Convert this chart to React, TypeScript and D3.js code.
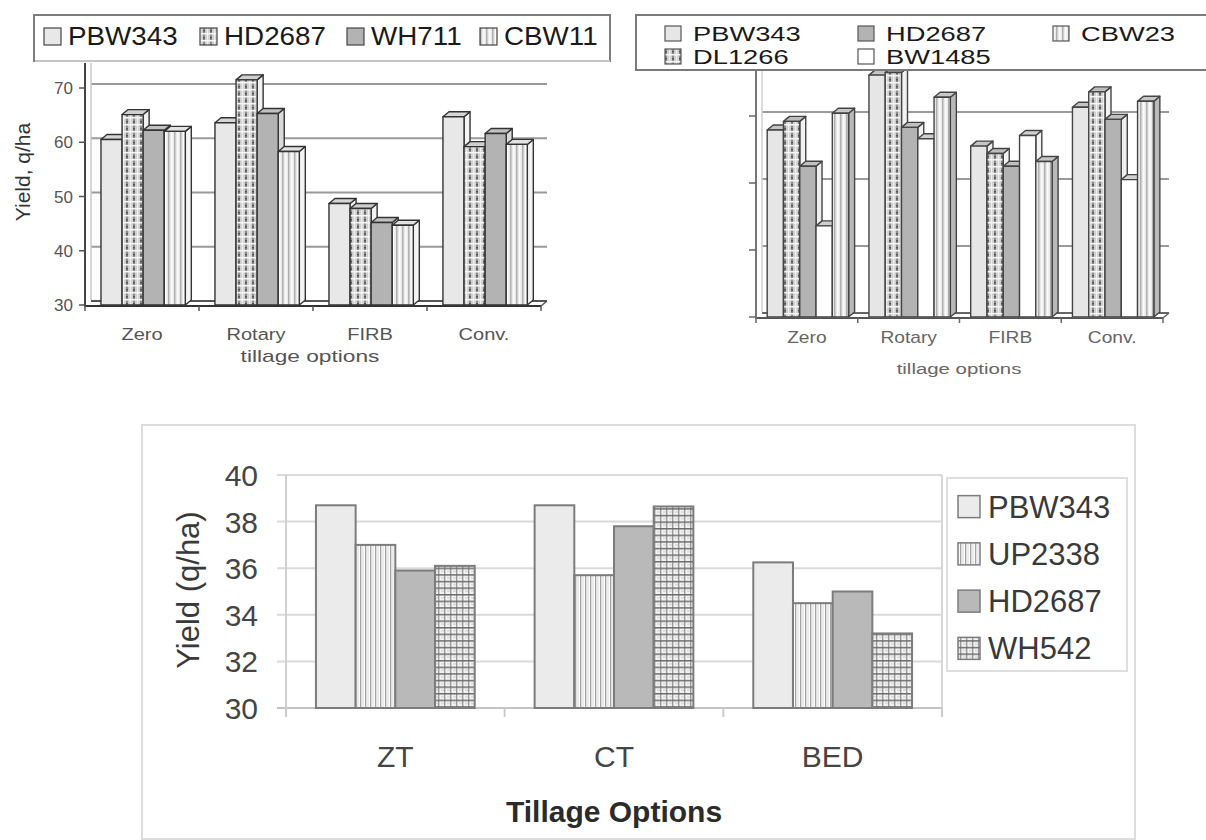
import React from 'react';
import * as d3 from 'd3';

// ---------- Panel A: yield of four varieties under tillage options ----------
const tillageA = ['Zero', 'Rotary', 'FIRB', 'Conv.'];
const varietiesA = ['PBW343', 'HD2687', 'WH711', 'CBW11'];
const pbw343A = [60.5, 63.6, 48.7, 64.7];
const hd2687A = [65.1, 71.5, 47.8, 59.2];
const wh711A = [62.2, 65.3, 45.2, 61.6];
const cbw11A = [62.0, 58.3, 44.7, 59.6];
const ticksA = [30, 40, 50, 60, 70];

// ---------- Panel B: five varieties under the same tillage options ----------
const tillageB = ['Zero', 'Rotary', 'FIRB', 'Conv.'];
const varietiesB = ['PBW343', 'DL1266', 'HD2687', 'BW1485', 'CBW23'];
const pbw343B = [57.9, 66.1, 55.5, 61.3];
const dl1266B = [59.2, 66.5, 54.4, 63.6];
const hd2687B = [52.5, 58.3, 52.5, 59.5];
const bw1485B = [43.6, 56.6, 57.1, 50.5];
const cbw23B = [60.4, 62.8, 53.2, 62.2];
const ticksB = [30, 40, 50, 60];

// ---------- Panel C: ZT / CT / BED ----------
const tillageC = ['ZT', 'CT', 'BED'];
const varietiesC = ['PBW343', 'UP2338', 'HD2687', 'WH542'];
const pbw343C = [38.7, 38.7, 36.25];
const up2338C = [37.0, 35.7, 34.5];
const hd2687C = [35.9, 37.8, 35.0];
const wh542C = [36.1, 38.65, 33.2];
const ticksC = [30, 32, 34, 36, 38, 40];

const seriesA = [pbw343A, hd2687A, wh711A, cbw11A];
const seriesB = [pbw343B, dl1266B, hd2687B, bw1485B, cbw23B];
const seriesC = [pbw343C, up2338C, hd2687C, wh542C];

const FONT = '"Liberation Sans", Arial, Helvetica, sans-serif';

type Face = { front: string; top: string; side: string };

const facesA: Face[] = [
  { front: '#e8e8e8', top: '#d6d6d6', side: '#f4f4f4' },
  { front: 'url(#plaidA)', top: '#cfcfcf', side: '#f2f2f2' },
  { front: '#b3b3b3', top: '#c2c2c2', side: '#dadada' },
  { front: 'url(#stripeA)', top: '#e2e2e2', side: '#f4f4f4' },
];

const facesB: Face[] = [
  { front: '#e6e6e6', top: '#c4c4c4', side: '#f0f0f0' },
  { front: 'url(#plaidA)', top: '#bdbdbd', side: '#f2f2f2' },
  { front: '#b3b3b3', top: '#c0c0c0', side: '#efefef' },
  { front: '#ffffff', top: '#d0d0d0', side: '#f6f6f6' },
  { front: 'url(#stripeA)', top: '#c8c8c8', side: '#b9b9b9' },
];

const fillsC = ['#ebebeb', 'url(#stripeC)', '#b9b9b9', 'url(#plaidC)'];

function pts(a: number[][]) {
  return a.map((p) => p.join(',')).join(' ');
}

function Bar3D({ x, w, yTop, yBase, dx, dy, face, stroke, sw }: {
  x: number; w: number; yTop: number; yBase: number; dx: number; dy: number;
  face: Face; stroke: string; sw: number;
}) {
  return (
    <g stroke={stroke} strokeWidth={sw} strokeLinejoin="round">
      <polygon
        points={pts([[x + w, yTop], [x + w + dx, yTop + dy], [x + w + dx, yBase + dy], [x + w, yBase]])}
        fill={face.side}
      />
      <polygon
        points={pts([[x, yTop], [x + dx, yTop + dy], [x + w + dx, yTop + dy], [x + w, yTop]])}
        fill={face.top}
      />
      <rect x={x} y={yTop} width={w} height={yBase - yTop} fill={face.front} />
    </g>
  );
}

function Txt({ x, y, size, fill, sx = 1, anchor = 'start', weight = 'normal', children }: {
  x: number; y: number; size: number; fill: string; sx?: number; anchor?: string;
  weight?: string; children: React.ReactNode;
}) {
  return (
    <text
      transform={`translate(${x},${y}) scale(${sx},1)`}
      fontSize={size}
      fill={fill}
      textAnchor={anchor as any}
      fontWeight={weight}
      fontFamily={FONT}
    >
      {children}
    </text>
  );
}

function PanelA() {
  const x0 = d3.scaleBand<string>().domain(tillageA).range([85, 541]);
  const bw = x0.bandwidth();
  const x1 = d3.scaleBand<string>().domain(varietiesA).range([bw * 0.14, bw * 0.88]);
  const y = d3.scaleLinear().domain([30, 70]).range([305, 88]);
  const dx = 6;
  const dy = -5;
  const base = y(30);
  const legendX = [44, 200, 347, 480];
  return (
    <g>
      {/* back wall gridlines */}
      {ticksA.map((t) => (
        <line key={t} x1={85 + dx} x2={541 + dx} y1={y(t) + dy + 1} y2={y(t) + dy + 1}
          stroke={t === 30 ? '#555' : '#9a9a9a'} strokeWidth={2} />
      ))}
      <line x1={85 + dx} x2={85 + dx} y1={63} y2={base + dy} stroke="#c8c8c8" strokeWidth={1.5} />
      {/* bars */}
      {tillageA.map((c, ci) => (
        <g key={c}>
          {varietiesA.map((v, vi) => (
            <Bar3D key={v} x={(x0(c) as number) + (x1(v) as number)} w={x1.bandwidth()}
              yTop={y(seriesA[vi][ci])} yBase={base} dx={dx} dy={dy}
              face={facesA[vi]} stroke="#333" sw={1.4} />
          ))}
        </g>
      ))}
      {/* floor front edge and axes */}
      <line x1={85} x2={541} y1={base + 1} y2={base + 1} stroke="#333" strokeWidth={2.2} />
      <line x1={541} x2={541 + dx} y1={base + 1} y2={base + dy + 1} stroke="#555" strokeWidth={1.5} />
      <line x1={85} x2={85} y1={63} y2={base + 2} stroke="#444" strokeWidth={2} />
      {ticksA.map((t) => (
        <g key={t}>
          <line x1={79} x2={85} y1={y(t)} y2={y(t)} stroke="#555" strokeWidth={1.5} />
          <Txt x={73} y={y(t) + 6} size={17} fill="#555" anchor="end">{t}</Txt>
        </g>
      ))}
      {[...tillageA.map((c) => x0(c) as number), 541].map((xv, i) => (
        <line key={i} x1={xv} x2={xv} y1={base + 1} y2={base + 6} stroke="#555" strokeWidth={1.5} />
      ))}
      {tillageA.map((c) => (
        <Txt key={c} x={(x0(c) as number) + bw / 2} y={340} size={17} fill="#555" anchor="middle" sx={1.18}>{c}</Txt>
      ))}
      <Txt x={310} y={362} size={16} fill="#555" anchor="middle" sx={1.42}>tillage options</Txt>
      <text transform="translate(30,172) rotate(-90)" fontSize={21} fill="#333" textAnchor="middle" fontFamily={FONT}>
        Yield, q/ha
      </text>
      {/* legend */}
      <rect x={34} y={15} width={576} height={46} fill="#fff" stroke="#7d7d7d" strokeWidth={2} />
      <line x1={35} x2={610} y1={61} y2={61} stroke="#c4c4c4" strokeWidth={2} />
      {varietiesA.map((v, i) => (
        <g key={v}>
          <rect x={legendX[i]} y={28} width={17} height={17} fill={facesA[i].front} stroke="#444" strokeWidth={1.2} />
          <Txt x={legendX[i] + 24} y={45} size={26} fill="#1a1a1a" sx={1.07}>{v}</Txt>
        </g>
      ))}
    </g>
  );
}

function PanelB() {
  const x0 = d3.scaleBand<string>().domain(tillageB).range([756, 1163]);
  const bw = x0.bandwidth();
  const x1 = d3.scaleBand<string>().domain(varietiesB).range([bw * 0.11, bw * 0.91]);
  const y = d3.scaleLinear().domain([30, 60]).range([317, 116]);
  const dx = 6;
  const dy = -5;
  const base = y(30);
  const colX = [665, 858, 1053];
  return (
    <g>
      {ticksB.map((t) => (
        <line key={t} x1={756 + dx} x2={1163 + dx} y1={y(t) + dy + 1} y2={y(t) + dy + 1}
          stroke={t === 30 ? '#666' : '#9a9a9a'} strokeWidth={2} />
      ))}
      <line x1={756 + dx} x2={756 + dx} y1={70} y2={base + dy} stroke="#cfcfcf" strokeWidth={1.5} />
      {tillageB.map((c, ci) => (
        <g key={c}>
          {varietiesB.map((v, vi) => (
            <Bar3D key={v} x={(x0(c) as number) + (x1(v) as number)} w={x1.bandwidth()}
              yTop={y(seriesB[vi][ci])} yBase={base} dx={dx} dy={dy}
              face={facesB[vi]} stroke="#444" sw={1.4} />
          ))}
        </g>
      ))}
      <line x1={756} x2={1163} y1={base + 1} y2={base + 1} stroke="#555" strokeWidth={2.2} />
      <line x1={1163} x2={1163 + dx} y1={base + 1} y2={base + dy + 1} stroke="#666" strokeWidth={1.5} />
      <line x1={756} x2={756} y1={70} y2={base + 2} stroke="#777" strokeWidth={2} />
      {ticksB.map((t) => (
        <line key={t} x1={749} x2={756} y1={y(t)} y2={y(t)} stroke="#666" strokeWidth={1.5} />
      ))}
      {[...tillageB.map((c) => x0(c) as number), 1163].map((xv, i) => (
        <line key={i} x1={xv} x2={xv} y1={base + 1} y2={base + 6} stroke="#666" strokeWidth={1.5} />
      ))}
      {tillageB.map((c) => (
        <Txt key={c} x={(x0(c) as number) + bw / 2} y={343} size={16} fill="#666" anchor="middle" sx={1.2}>{c}</Txt>
      ))}
      <Txt x={959} y={374} size={15} fill="#666" anchor="middle" sx={1.36}>tillage options</Txt>
      {/* legend, two rows filled column by column */}
      <rect x={636} y={15} width={580} height={55} fill="#fff" stroke="#7a7a7a" strokeWidth={2} />
      {varietiesB.map((v, i) => {
        const col = Math.floor(i / 2);
        const row = i % 2;
        const lx = colX[col];
        const by = row === 0 ? 41 : 64;
        return (
          <g key={v}>
            <rect x={lx} y={by - 15} width={16} height={15} fill={facesB[i].front} stroke="#555" strokeWidth={1.2} />
            <Txt x={lx + 28} y={by} size={21} fill="#1a1a1a" sx={1.3}>{v}</Txt>
          </g>
        );
      })}
    </g>
  );
}

function PanelC() {
  const x0 = d3.scaleBand<string>().domain(tillageC).range([286, 942]);
  const bw = x0.bandwidth();
  const x1 = d3.scaleBand<string>().domain(varietiesC).range([bw * 0.137, bw * 0.863]);
  const y = d3.scaleLinear().domain([30, 40]).range([708, 475]);
  const legendY = d3.scaleBand<string>().domain(varietiesC).range([483, 672]);
  return (
    <g>
      <rect x={142} y={425} width={993} height={414} fill="#fff" stroke="#dcdcdc" strokeWidth={2} />
      {ticksC.filter((t) => t > 30).map((t) => (
        <line key={t} x1={277} x2={942} y1={y(t)} y2={y(t)} stroke="#dadada" strokeWidth={2} />
      ))}
      <line x1={286} x2={286} y1={475} y2={717} stroke="#d0d0d0" strokeWidth={2} />
      <line x1={942} x2={942} y1={475} y2={717} stroke="#d6d6d6" strokeWidth={2} />
      <line x1={277} x2={942} y1={y(30)} y2={y(30)} stroke="#c4c4c4" strokeWidth={2} />
      {[...tillageC.map((c) => x0(c) as number), 942].map((xv, i) => (
        <line key={i} x1={xv} x2={xv} y1={y(30)} y2={717} stroke="#cccccc" strokeWidth={2} />
      ))}
      {tillageC.map((c, ci) => (
        <g key={c}>
          {varietiesC.map((v, vi) => {
            const yt = y(seriesC[vi][ci]);
            return (
              <rect key={v} x={(x0(c) as number) + (x1(v) as number)} y={yt}
                width={x1.bandwidth()} height={y(30) - yt}
                fill={fillsC[vi]} stroke="#7c7c7c" strokeWidth={2} />
            );
          })}
        </g>
      ))}
      {ticksC.map((t) => (
        <Txt key={t} x={258} y={y(t) + 11} size={30} fill="#454545" anchor="end">{t}</Txt>
      ))}
      {tillageC.map((c) => (
        <Txt key={c} x={(x0(c) as number) + bw / 2} y={767} size={30} fill="#454545" anchor="middle">{c}</Txt>
      ))}
      <Txt x={614} y={822} size={30} fill="#2b2b2b" anchor="middle" weight="bold">Tillage Options</Txt>
      <text transform="translate(199,590) rotate(-90)" fontSize={31} fill="#3a3a3a" textAnchor="middle" fontFamily={FONT}>
        Yield (q/ha)
      </text>
      {/* legend */}
      <rect x={947} y={478} width={180} height={193} fill="#fff" stroke="#dedede" strokeWidth={2} />
      {varietiesC.map((v, i) => {
        const cy = (legendY(v) as number) + legendY.bandwidth() / 2;
        return (
          <g key={v}>
            <rect x={958} y={cy - 11} width={22} height={22} fill={fillsC[i]} stroke="#7c7c7c" strokeWidth={1.5} />
            <Txt x={988} y={cy + 11} size={31} fill="#3a3a3a">{v}</Txt>
          </g>
        );
      })}
    </g>
  );
}

export default function App() {
  return (
    <svg
      width={1206}
      height={840}
      viewBox="0 0 1206 840"
      style={{ position: 'absolute', left: 0, top: 0, background: '#fff' }}
      fontFamily={FONT}
    >
      <defs>
        <pattern id="plaidA" width="7" height="7" patternUnits="userSpaceOnUse">
          <rect width="7" height="7" fill="#cfcfcf" />
          <rect x="0" y="0" width="2" height="7" fill="#8d8d8d" />
          <rect x="4" y="0" width="1.2" height="7" fill="#efefef" />
          <rect x="0" y="5" width="7" height="1.5" fill="#f6f6f6" />
          <rect x="0" y="2" width="2" height="1.5" fill="#555" />
        </pattern>
        <pattern id="stripeA" width="6" height="6" patternUnits="userSpaceOnUse">
          <rect width="6" height="6" fill="#e9e9e9" />
          <rect x="0" y="0" width="1.5" height="6" fill="#b0b0b0" />
          <rect x="3" y="0" width="1.5" height="6" fill="#fbfbfb" />
        </pattern>
        <pattern id="stripeC" width="5" height="5" patternUnits="userSpaceOnUse">
          <rect width="5" height="5" fill="#fbfbfb" />
          <rect x="0" y="0" width="1.3" height="5" fill="#a3a3a3" />
          <rect x="2.6" y="0" width="0.8" height="5" fill="#d6d6d6" />
        </pattern>
        <pattern id="plaidC" width="6" height="6.6" patternUnits="userSpaceOnUse">
          <rect width="6" height="6.6" fill="#f3f3f3" />
          <rect x="0" y="0" width="1.4" height="6.6" fill="#9b9b9b" />
          <rect x="0" y="0" width="6" height="1.5" fill="#6c6c6c" />
          <rect x="3" y="3.3" width="3" height="1" fill="#c9c9c9" />
        </pattern>
      </defs>
      <rect width={1206} height={840} fill="#fff" />
      <PanelA />
      <PanelB />
      <PanelC />
    </svg>
  );
}
